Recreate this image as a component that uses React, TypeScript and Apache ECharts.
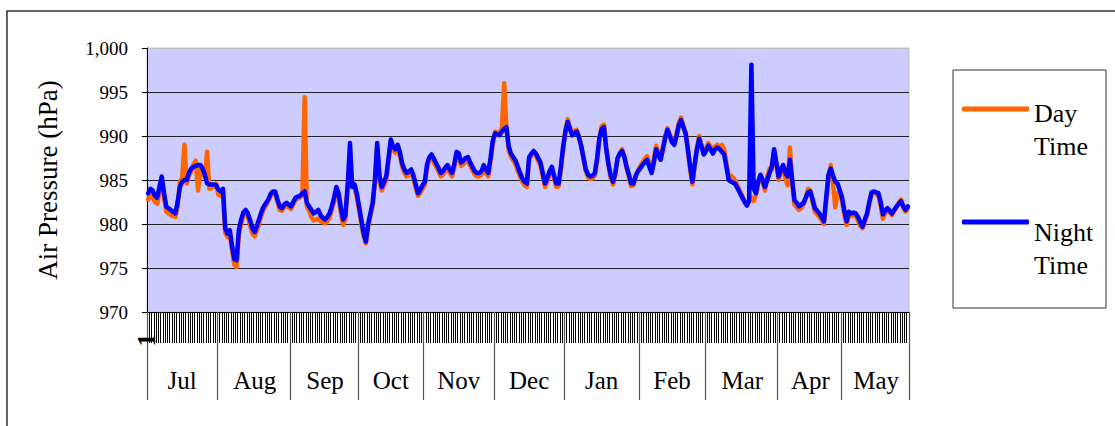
import React, { useEffect, useRef } from "react";
import * as echarts from "echarts";

const monthLabels = ["Jul", "Aug", "Sep", "Oct", "Nov", "Dec", "Jan", "Feb", "Mar", "Apr", "May"];
const monthDays = [31, 32, 30, 29, 31, 31, 33, 29, 32, 28, 30];

const yTicks = [970, 975, 980, 985, 990, 995, 1000];

const seriesNames = ["Day Time", "Night Time"];

// Night time air pressure (hPa), one value per day
const nightTime = [
  // Jul
  983.5, 984.0, 983.8, 983.2, 983.0, 984.2, 985.4, 983.5, 982.0, 981.8, 981.6, 981.4, 981.2, 982.5, 984.2, 984.8,
  985.0, 985.0, 985.8, 986.3, 986.5, 986.6, 986.7, 986.7, 986.3, 985.6, 984.6, 984.5, 984.5, 984.5, 984.4,
  // Aug
  983.9, 983.7, 984.0, 979.5, 978.9, 979.3, 977.5, 976.0, 975.9, 979.3, 980.5, 981.3, 981.6, 981.2, 980.4, 979.5,
  979.1, 979.8, 980.6, 981.4, 982.0, 982.4, 982.8, 983.4, 983.7, 983.7, 982.8, 982.0, 981.8, 982.2, 982.4, 982.2,
  // Sep
  982.0, 982.5, 983.0, 983.1, 983.2, 983.5, 983.7, 982.4, 982.0, 981.6, 981.2, 981.4, 981.6, 981.0, 980.7, 980.5,
  980.8, 981.2, 982.0, 983.0, 984.2, 983.5, 981.8, 980.5, 981.0, 984.5, 989.2, 984.2, 984.5, 983.5,
  // Oct
  982.0, 980.5, 979.0, 978.0, 980.0, 981.2, 982.4, 985.0, 989.2, 985.5, 984.2, 984.8, 985.4, 987.5, 989.6, 988.8,
  988.5, 989.0, 988.2, 986.9, 986.2, 985.8, 986.0, 986.2, 985.5, 984.5, 983.5, 983.9, 984.4,
  // Nov
  984.8, 986.8, 987.6, 987.9, 987.4, 986.9, 986.4, 985.8, 986.0, 986.4, 986.7, 986.2, 985.8, 986.8, 988.2, 988.0,
  987.0, 987.2, 987.5, 987.6, 987.0, 986.5, 986.0, 985.8, 985.8, 986.0, 986.7, 986.2, 985.8, 987.5, 989.5,
  // Dec
  990.3, 990.2, 990.1, 990.5, 990.8, 991.0, 988.8, 988.0, 987.6, 987.2, 986.5, 985.8, 985.2, 984.8, 984.6, 987.6,
  988.0, 988.3, 988.0, 987.5, 987.0, 985.8, 984.6, 985.2, 986.0, 986.5, 985.5, 984.6, 984.6, 986.5, 988.8,
  // Jan
  990.5, 991.6, 990.8, 990.1, 990.3, 990.5, 989.8, 988.8, 987.5, 986.2, 985.6, 985.4, 985.5, 985.8, 987.5, 989.8,
  990.8, 991.0, 988.5, 986.8, 985.5, 984.8, 985.8, 987.5, 988.0, 988.3, 987.6, 986.5, 985.6, 984.6, 984.6, 985.5, 986.0,
  // Feb
  986.3, 986.7, 987.0, 987.3, 986.5, 985.8, 987.0, 988.5, 987.8, 987.3, 988.5, 989.8, 990.7, 990.0, 989.3, 989.0,
  990.0, 991.2, 991.8, 991.0, 990.3, 988.5, 986.5, 984.8, 986.8, 988.5, 989.7, 988.8, 987.9,
  // Mar
  988.3, 988.9, 988.5, 988.0, 988.5, 988.7, 988.5, 988.2, 987.9, 986.5, 985.0, 984.8, 984.7, 984.5, 984.0, 983.5,
  983.0, 982.5, 982.1, 982.7, 998.1, 984.0, 983.5, 984.8, 985.6, 985.0, 984.2, 985.0, 985.8, 986.5, 988.5, 987.0,
  // Apr
  985.4, 986.2, 986.7, 985.8, 985.4, 987.3, 985.0, 982.7, 982.4, 982.0, 982.2, 982.4, 983.0, 983.6, 983.7, 982.8,
  981.8, 981.5, 981.2, 980.8, 980.3, 983.0, 985.6, 986.3, 985.5, 984.8, 984.6, 983.8,
  // May
  983.0, 981.5, 980.3, 981.4, 981.2, 981.3, 981.2, 980.8, 980.2, 979.7, 980.5, 981.2, 982.5, 983.6, 983.7, 983.6,
  983.5, 982.5, 981.1, 981.5, 981.8, 981.5, 981.2, 981.6, 982.0, 982.3, 982.6, 982.0, 981.6, 982.0,
];

// Day time air pressure (hPa), one value per day
const dayTime = [
  // Jul
  982.8, 983.3, 983.0, 982.5, 982.3, 983.6, 984.8, 983.0, 981.4, 981.2, 981.0, 980.9, 980.8, 982.0, 984.8, 985.2,
  989.0, 984.6, 985.5, 986.0, 986.8, 987.2, 983.8, 986.4, 986.0, 985.3, 988.2, 984.0, 984.1, 984.2, 984.6,
  // Aug
  983.3, 983.2, 983.5, 979.0, 978.5, 978.8, 977.0, 975.4, 975.1, 978.8, 980.0, 980.9, 981.2, 980.8, 979.8, 978.9,
  978.6, 979.3, 980.1, 981.0, 981.7, 982.1, 982.6, 983.2, 983.5, 983.5, 982.5, 981.6, 981.5, 981.9, 982.1, 981.9,
  // Sep
  981.7, 982.2, 982.7, 982.9, 983.0, 983.3, 994.4, 982.0, 981.5, 980.8, 980.4, 980.5, 980.6, 980.3, 980.2, 980.1,
  980.3, 980.7, 981.6, 982.6, 983.8, 983.0, 981.2, 979.9, 980.6, 984.3, 985.0, 985.0, 984.2, 983.0,
  // Oct
  981.6, 980.0, 978.6, 977.8, 979.6, 980.9, 982.0, 984.6, 988.9, 985.0, 983.8, 984.4, 985.0, 987.2, 989.3, 988.4,
  988.1, 988.6, 987.8, 986.5, 985.8, 985.4, 985.6, 985.8, 985.1, 984.1, 983.2, 983.5, 984.0,
  // Nov
  984.4, 986.4, 987.3, 987.6, 987.0, 986.5, 986.0, 985.4, 985.6, 986.0, 986.3, 985.8, 985.4, 986.4, 987.8, 987.6,
  986.6, 986.8, 987.1, 987.2, 986.6, 986.1, 985.6, 985.4, 985.4, 985.6, 986.3, 985.8, 985.4, 987.2, 989.2,
  // Dec
  990.5, 990.4, 990.3, 991.0, 996.0, 990.8, 988.4, 987.6, 987.2, 986.8, 986.0, 985.4, 984.8, 984.4, 984.2, 987.3,
  987.8, 988.1, 987.7, 987.2, 986.6, 985.4, 984.2, 984.8, 985.7, 986.2, 985.2, 984.2, 984.3, 986.2, 988.6,
  // Jan
  990.7, 991.9, 991.0, 990.3, 990.6, 990.7, 990.0, 988.9, 987.3, 986.0, 985.3, 985.1, 985.2, 985.5, 987.3, 989.9,
  991.1, 991.3, 988.6, 986.6, 985.2, 984.5, 985.6, 987.4, 988.1, 988.5, 987.6, 986.3, 985.3, 984.3, 984.4, 985.4, 986.0,
  // Feb
  986.6, 987.0, 987.4, 987.7, 986.8, 986.0, 987.4, 988.9, 988.1, 987.6, 988.8, 990.0, 990.9, 990.2, 989.4, 989.2,
  990.3, 991.5, 992.1, 991.2, 990.4, 988.3, 986.2, 984.5, 986.6, 988.7, 990.0, 989.0, 988.2,
  // Mar
  988.6, 989.2, 988.8, 988.3, 988.8, 989.0, 988.8, 989.0, 988.5, 986.9, 985.4, 985.5, 985.2, 984.9, 984.3, 983.8,
  983.2, 982.6, 982.2, 982.5, 983.0, 982.6, 983.3, 984.6, 985.4, 984.7, 983.8, 985.4, 986.3, 986.2, 988.3, 986.8,
  // Apr
  985.0, 985.8, 986.4, 985.2, 984.4, 988.7, 984.6, 982.2, 981.9, 981.6, 981.8, 982.2, 983.0, 984.0, 983.8, 982.4,
  981.4, 981.1, 980.8, 980.4, 980.0, 982.6, 985.4, 986.7, 984.6, 981.9, 983.5, 983.4,
  // May
  982.6, 981.0, 979.9, 981.0, 980.9, 981.0, 980.9, 980.4, 979.8, 979.5, 980.2, 981.0, 982.3, 983.4, 983.6, 983.4,
  983.2, 982.0, 980.6, 981.2, 981.6, 981.3, 981.0, 981.5, 981.9, 982.4, 982.8, 981.8, 981.4, 981.8,
];

const FONT = "Liberation Serif";

export default function App() {
  const ref = useRef<HTMLDivElement>(null);

  useEffect(() => {
    if (!ref.current) return;
    const chart = echarts.init(ref.current, undefined, { renderer: "svg" });

    const dayCats: string[] = [];
    const monthCats: string[] = [];
    const monthStart = new Set<number>();
    const monthMid = new Set<number>();
    let idx = 0;
    monthDays.forEach((n, m) => {
      monthStart.add(idx);
      monthMid.add(idx + Math.floor(n / 2));
      for (let d = 1; d <= n; d++) {
        dayCats.push(String(d));
        monthCats.push(monthLabels[m]);
      }
      idx += n;
    });

    const gridColors = yTicks.map((v, i) => (i === yTicks.length - 1 ? "#c0c0c0" : "#222"));
    const blankLine = { fontSize: 26, lineHeight: 33 };

    const legendWord = (text: string, y: number) => ({
      type: "text",
      x: 1034,
      y,
      style: {
        text,
        fontFamily: FONT,
        fontSize: 26,
        fill: "#000",
        align: "left",
        verticalAlign: "middle",
      },
      silent: true,
    });
    const [dayA, dayB] = seriesNames[0].split(" ");
    const [nightA, nightB] = seriesNames[1].split(" ");

    chart.setOption({
      animation: false,
      backgroundColor: "#ffffff",
      textStyle: { fontFamily: FONT },
      grid: {
        left: 147,
        top: 48,
        width: 762,
        height: 264,
        show: true,
        backgroundColor: "#CCCCFF",
        borderColor: "#c0c0c0",
        borderWidth: 1,
        containLabel: false,
      },
      legend: {
        orient: "vertical",
        left: 962,
        top: 63,
        padding: 0,
        itemWidth: 67,
        itemHeight: 5,
        itemGap: 21,
        icon: "roundRect",
        selectedMode: false,
        data: seriesNames,
        formatter: () => "{p| }\n{p| }\n{p| }",
        textStyle: { rich: { p: blankLine } },
      },
      xAxis: [
        {
          type: "category",
          data: dayCats,
          boundaryGap: true,
          axisLine: { show: true, lineStyle: { color: "#000", width: 1 } },
          axisTick: { show: true, interval: 0, length: 31, lineStyle: { color: "#000", width: 1 } },
          axisLabel: { show: false },
          splitLine: { show: false },
        },
        {
          type: "category",
          data: monthCats,
          position: "bottom",
          boundaryGap: true,
          axisLine: { show: false },
          axisTick: {
            show: true,
            interval: (i: number) => monthStart.has(i),
            length: 88,
            lineStyle: { color: "#555", width: 1.2 },
          },
          axisLabel: {
            interval: (i: number) => monthMid.has(i),
            margin: 56,
            fontSize: 25,
            fontFamily: FONT,
            color: "#000",
          },
          splitLine: { show: false },
        },
      ],
      yAxis: {
        type: "value",
        min: 970,
        max: 1000,
        interval: 5,
        name: "Air Pressure (hPa)",
        nameLocation: "middle",
        nameRotate: 90,
        nameGap: 86,
        nameTextStyle: { fontFamily: FONT, fontSize: 27, color: "#000" },
        axisLine: { show: true, lineStyle: { color: "#000", width: 1 } },
        axisTick: { show: true, length: 5, lineStyle: { color: "#000" } },
        axisLabel: {
          margin: 19,
          fontSize: 19,
          fontFamily: FONT,
          color: "#000",
          formatter: (v: number) => v.toLocaleString("en-US"),
        },
        splitLine: { show: true, lineStyle: { color: gridColors, width: 1 } },
      },
      series: [
        {
          name: seriesNames[0],
          type: "line",
          data: dayTime,
          xAxisIndex: 0,
          symbol: "none",
          color: "#FF6600",
          lineStyle: { color: "#FF6600", width: 4.5, cap: "round", join: "round" },
          z: 2,
        },
        {
          name: seriesNames[1],
          type: "line",
          data: nightTime,
          xAxisIndex: 0,
          symbol: "none",
          color: "#0000FF",
          lineStyle: { color: "#0000FF", width: 4.5, cap: "round", join: "round" },
          z: 3,
        },
      ],
      graphic: [
        {
          type: "rect",
          shape: { x: 7, y: 11, width: 1300, height: 700 },
          style: { fill: "transparent", stroke: "#333", lineWidth: 1.5 },
          silent: true,
        },
        {
          type: "rect",
          shape: { x: 953, y: 70, width: 153, height: 238 },
          style: { fill: "transparent", stroke: "#333", lineWidth: 1 },
          silent: true,
        },
        legendWord(dayA, 113),
        legendWord(dayB, 146),
        legendWord(nightA, 232),
        legendWord(nightB, 265),
        {
          type: "text",
          x: 146,
          y: 340,
          rotation: Math.PI / 2,
          z: 100,
          style: {
            text: dayCats[0],
            fontFamily: FONT,
            fontSize: 26,
            fontWeight: "bold",
            fill: "#000",
            align: "center",
            verticalAlign: "middle",
          },
          silent: true,
        },
      ],
    });

    return () => chart.dispose();
  }, []);

  return (
    <div
      ref={ref}
      style={{ position: "absolute", left: 0, top: 0, width: 1115, height: 426 }}
    />
  );
}
